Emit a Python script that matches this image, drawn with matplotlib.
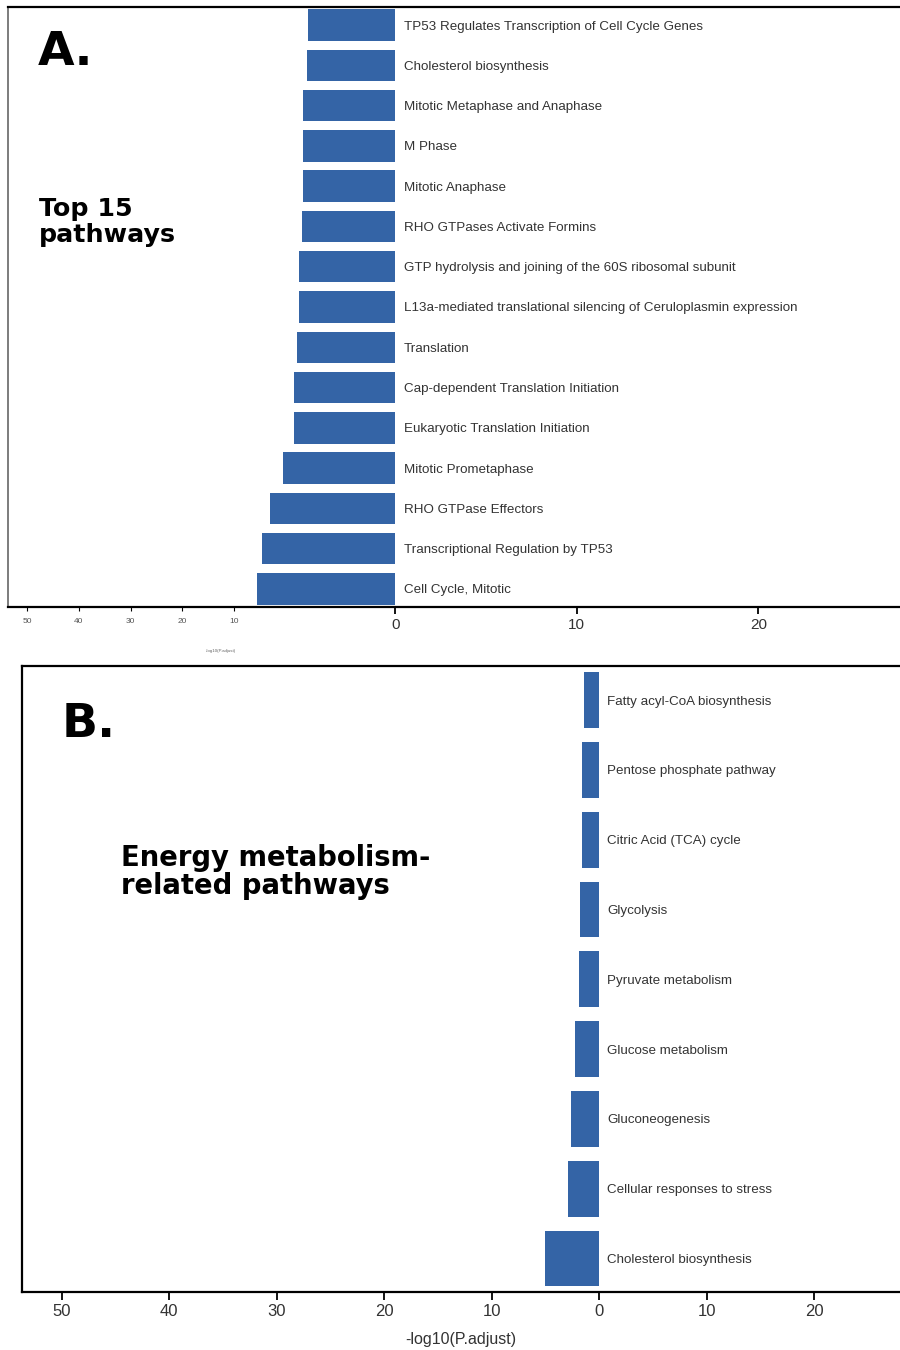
import numpy as np
import matplotlib
matplotlib.use("Agg")
import matplotlib.pyplot as plt
from matplotlib.ticker import FixedLocator, FuncFormatter

plt.rcParams['font.family'] = ['Liberation Sans', 'DejaVu Sans']

# Panel A: top 15 enriched pathways, -log10(P.adjust)
top_pathways = [
    "TP53 Regulates Transcription of Cell Cycle Genes",
    "Cholesterol biosynthesis",
    "Mitotic Metaphase and Anaphase",
    "M Phase",
    "Mitotic Anaphase",
    "RHO GTPases Activate Formins",
    "GTP hydrolysis and joining of the 60S ribosomal subunit",
    "L13a-mediated translational silencing of Ceruloplasmin expression",
    "Translation",
    "Cap-dependent Translation Initiation",
    "Eukaryotic Translation Initiation",
    "Mitotic Prometaphase",
    "RHO GTPase Effectors",
    "Transcriptional Regulation by TP53",
    "Cell Cycle, Mitotic",
]
top_scores = [5.4, 5.5, 5.7, 5.7, 5.7, 5.8, 6.0, 6.0, 6.1, 6.3, 6.3, 7.0, 7.8, 8.3, 8.6]

# Panel B: energy metabolism related pathways
energy_pathways = [
    "Fatty acyl-CoA biosynthesis",
    "Pentose phosphate pathway",
    "Citric Acid (TCA) cycle",
    "Glycolysis",
    "Pyruvate metabolism",
    "Glucose metabolism",
    "Gluconeogenesis",
    "Cellular responses to stress",
    "Cholesterol biosynthesis",
]
energy_scores = [1.4, 1.6, 1.6, 1.8, 1.9, 2.2, 2.6, 2.9, 5.0]

axis_ticks = [-50, -40, -30, -20, -10, 0, 10, 20]

BAR_COLOR = "#3464a6"
TEXT_COLOR = "#333333"

W, H = 900, 1350


def px_box(left, top, right, bottom):
    return [left / W, 1 - bottom / H, (right - left) / W, (bottom - top) / H]


# the negative side of panel A is compressed in two steps
S1 = 161 / 181.5
S2 = (207 / 40) / 18.15


def fwd(x):
    x = np.asarray(x, dtype=float)
    return np.where(x >= 0, x, np.where(x >= -10, S1 * x, -10 * S1 + S2 * (x + 10)))


def inv(y):
    y = np.asarray(y, dtype=float)
    return np.where(y >= 0, y, np.where(y >= -10 * S1, y / S1, (y + 10 * S1) / S2 - 10))


abs_fmt = FuncFormatter(lambda v, p: f"{abs(v):g}")


def draw_panel(ax, names, scores, bar_h):
    n = len(names)
    ypos = np.arange(n)[::-1]
    ax.barh(ypos, -np.asarray(scores), height=bar_h, color=BAR_COLOR, align='center')
    for y, name in zip(ypos, names):
        ax.annotate(name, xy=(0, y), xytext=(6, 0), textcoords='offset points',
                    va='center_baseline', ha='left', fontsize=9.6, color=TEXT_COLOR)
    ax.set_yticks([])
    ax.spines['right'].set_visible(False)
    for s in ('left', 'top', 'bottom'):
        ax.spines[s].set_linewidth(1.6)
    ax.xaxis.set_major_locator(FixedLocator(axis_ticks))
    ax.xaxis.set_major_formatter(abs_fmt)
    ax.tick_params(axis='x', length=5, width=1.3, colors='black', labelcolor=TEXT_COLOR)


fig = plt.figure(figsize=(9, 13.5), dpi=100)

# ---- panel A ----
axA = fig.add_axes(px_box(8, 7, 900, 607))
axA.set_xscale('function', functions=(fwd, inv))
draw_panel(axA, top_pathways, top_scores, 0.78)
axA.set_xlim(-53.7, 27.8)
axA.set_ylim(-0.45, 14.45)
axA.spines['left'].set_color('#666666')
axA.spines['left'].set_linewidth(1.2)
axA.tick_params(axis='x', labelsize=11, pad=3)
for val, lab, tk in zip(axis_ticks, axA.get_xticklabels(), axA.xaxis.get_major_ticks()):
    if val < 0:
        lab.set_fontsize(6)
        lab.set_color('#555555')
        tk.tick1line.set_markersize(3)
        tk.tick1line.set_markeredgewidth(0.8)
fig.text(221 / W, 1 - 651 / H, "-log10(P.adjust)", fontsize=3.2, color='#666666',
         ha='center', va='center')

fig.text(38 / W, 1 - 65 / H, "A.", fontsize=34, fontweight='bold', family='DejaVu Sans',
         va='baseline', ha='left')
fig.text(39 / W, 1 - 197 / H, "Top 15\npathways", fontsize=18.3, fontweight='bold',
         family='DejaVu Sans', va='top', ha='left', linespacing=1.12)

# ---- panel B ----
axB = fig.add_axes(px_box(22, 666, 900, 1292))
draw_panel(axB, energy_pathways, energy_scores, 0.8)
axB.set_xlim(-53.7, 28.0)
axB.set_ylim(-0.48, 8.49)
axB.tick_params(axis='x', labelsize=12, pad=3, length=6)
axB.set_xlabel("-log10(P.adjust)", fontsize=11.5, color=TEXT_COLOR, labelpad=9)

fig.text(62 / W, 1 - 737 / H, "B.", fontsize=34, fontweight='bold', family='DejaVu Sans',
         va='baseline', ha='left')
fig.text(121 / W, 1 - 844 / H, "Energy metabolism-\nrelated pathways", fontsize=19.8,
         fontweight='bold', family='DejaVu Sans', va='top', ha='left', linespacing=1.0)

fig.savefig("out.png", dpi=100)
